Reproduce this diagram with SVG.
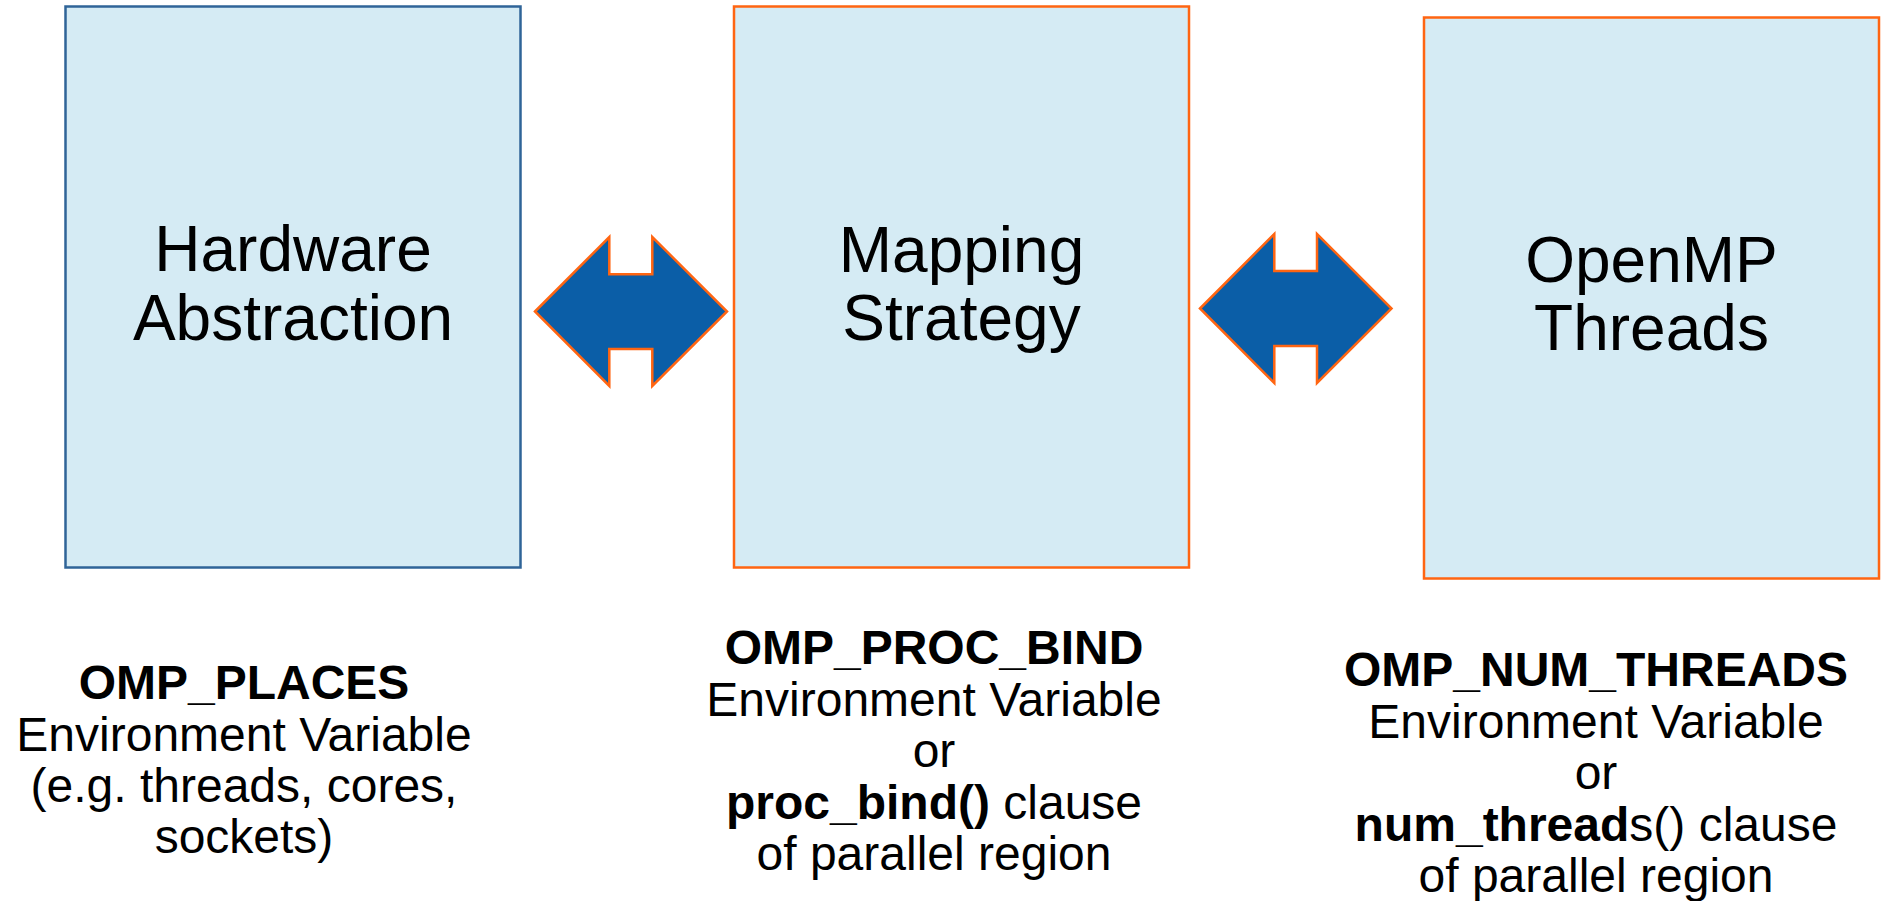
<svg xmlns="http://www.w3.org/2000/svg" width="1881" height="901" viewBox="0 0 1881 901">
<style>
.box{fill:#d5ebf4;stroke-width:2.5}
.blue{stroke:#2f6498}
.orange{stroke:#ff6512}
.arrow{fill:#0b5ea7;stroke:#ff6512;stroke-width:2.5;stroke-linejoin:miter}
.title{font-family:"Liberation Sans",Arial,sans-serif;font-size:64px;fill:#000;text-anchor:middle}
.lbl{font-family:"Liberation Sans",Arial,sans-serif;font-size:48px;fill:#000;text-anchor:middle}
.b{font-weight:bold}
</style>
<rect width="1881" height="901" fill="#ffffff"/>
<g id="hardware-abstraction">
<rect class="box blue" x="65.5" y="6.5" width="455" height="561"/>
<text class="title" x="293" y="271">Hardware</text>
<text class="title" x="293" y="340">Abstraction</text>
</g>
<g id="mapping-strategy">
<rect class="box orange" x="734" y="6.5" width="455" height="561"/>
<text class="title" x="961.5" y="272">Mapping</text>
<text class="title" x="961.5" y="340">Strategy</text>
</g>
<g id="openmp-threads">
<rect class="box orange" x="1424" y="17.5" width="455" height="561"/>
<text class="title" x="1651.5" y="282">OpenMP</text>
<text class="title" x="1651.5" y="350">Threads</text>
</g>
<g id="connectors">
<polygon class="arrow" points="535,311.5 609.3,237 609.3,274.3 652.3,274.3 652.3,237 727,311.5 652.3,386 652.3,349 609.3,349 609.3,386"/>
<polygon class="arrow" points="1200,308.5 1274.3,234 1274.3,271 1317,271 1317,234 1391.5,308.5 1317,383 1317,346 1274.3,346 1274.3,383"/>
</g>
<g id="places-label">
<text class="lbl b" x="244" y="699">OMP_PLACES</text>
<text class="lbl" x="244" y="751">Environment Variable</text>
<text class="lbl" x="244" y="802">(e.g. threads, cores,</text>
<text class="lbl" x="244" y="853">sockets)</text>
</g>
<g id="proc-bind-label">
<text class="lbl b" x="934" y="664">OMP_PROC_BIND</text>
<text class="lbl" x="934" y="715.5">Environment Variable</text>
<text class="lbl" x="934" y="767">or</text>
<text class="lbl" x="934" y="818.5"><tspan class="b">proc_bind()</tspan> clause</text>
<text class="lbl" x="934" y="870">of parallel region</text>
</g>
<g id="num-threads-label">
<text class="lbl b" x="1596" y="686">OMP_NUM_THREADS</text>
<text class="lbl" x="1596" y="737.5">Environment Variable</text>
<text class="lbl" x="1596" y="789">or</text>
<text class="lbl" x="1596" y="840.5"><tspan class="b">num_thread</tspan>s() clause</text>
<text class="lbl" x="1596" y="892">of parallel region</text>
</g>
</svg>
